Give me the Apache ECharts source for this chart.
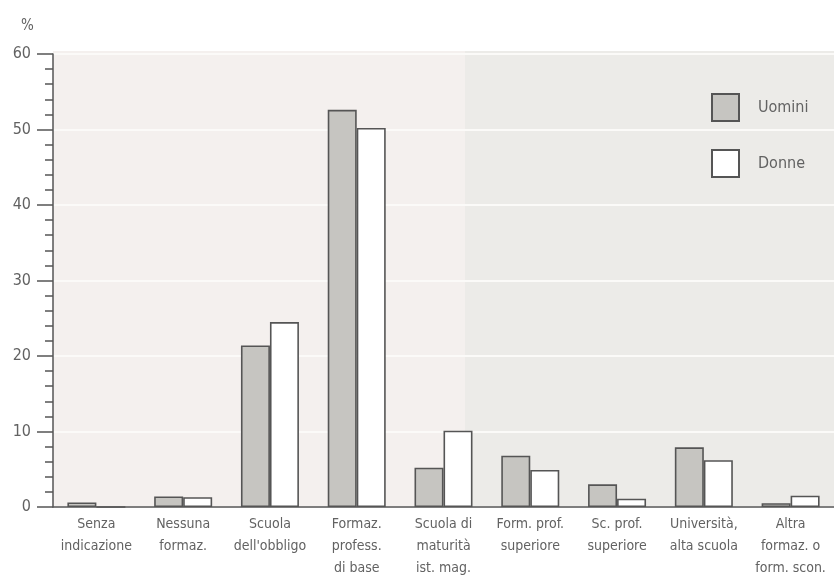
<!DOCTYPE html>
<html>
<head>
<meta charset="utf-8">
<script src="https://cdn.jsdelivr.net/npm/echarts@6/dist/echarts.min.js"></script>
<style>
  html, body { margin: 0; padding: 0; background: #ffffff; }
  #chart { width: 834px; height: 579px; }
</style>
</head>
<body>
<div id="chart"></div>
<script>
// Livello di formazione per sesso, in %
const categories = [
  'Senza\nindicazione',
  'Nessuna\nformaz.',
  'Scuola\ndell\'obbligo',
  'Formaz.\nprofess.\ndi base',
  'Scuola di\nmaturità\nist. mag.',
  'Form. prof.\nsuperiore',
  'Sc. prof.\nsuperiore',
  'Università,\nalta scuola',
  'Altra\nformaz. o\nform. scon.'
];
const uomini = [0.6, 1.4, 21.4, 52.6, 5.2, 6.8, 3.0, 7.9, 0.5];
const donne  = [0.0, 1.3, 24.5, 50.2, 10.1, 4.9, 1.1, 6.2, 1.5];
const yTicks = { min: 0, max: 60, interval: 10 };

const FONT = '"Liberation Sans Narrow", "DejaVu Sans Condensed", "Liberation Sans", sans-serif';
const TEXT = '#626262';
const AXIS = '#555555';

const chart = echarts.init(document.getElementById('chart'), null, { renderer: 'canvas' });

const gridLeft = 53, gridTop = 54, gridBottom = 72;
const plotH = 579 - gridTop - gridBottom;

chart.setOption({
  animation: false,
  backgroundColor: '#ffffff',
  textStyle: { fontFamily: FONT },
  grid: { left: gridLeft, right: 0, top: gridTop, bottom: gridBottom, containLabel: false },
  title: {
    text: '%', left: 16, top: 14,
    textStyle: { fontFamily: FONT, fontSize: 15, fontWeight: 'normal', color: TEXT }
  },
  legend: {
    orient: 'vertical', left: 706, top: 88,
    itemWidth: 27, itemHeight: 27, itemGap: 27,
    icon: 'rect',
    textStyle: { fontFamily: FONT, fontSize: 16, color: TEXT, padding: [0, 0, 0, 14] },
    data: ['Uomini', 'Donne']
  },
  graphic: [
    { type: 'rect', z: -10, shape: { x: gridLeft, y: gridTop - 3, width: 465 - gridLeft, height: plotH + 3 },
      style: { fill: '#f4f0ee' } },
    { type: 'rect', z: -10, shape: { x: 465, y: gridTop - 3, width: 834 - 465, height: plotH + 3 },
      style: { fill: '#ecebe8' } }
  ],
  xAxis: {
    type: 'category',
    data: categories,
    axisLine: { lineStyle: { color: AXIS, width: 1.5 } },
    axisTick: { show: false },
    axisLabel: {
      interval: 0, color: TEXT, fontFamily: FONT, fontSize: 14, lineHeight: 22, margin: 6
    }
  },
  yAxis: {
    type: 'value',
    min: yTicks.min, max: yTicks.max, interval: yTicks.interval,
    axisLine: { show: true, lineStyle: { color: AXIS, width: 1.5 } },
    axisTick: { show: true, length: 16, lineStyle: { color: AXIS, width: 1.5 } },
    minorTick: { show: true, splitNumber: 5, length: 8, lineStyle: { color: AXIS, width: 1.5 } },
    splitLine: { show: true, lineStyle: { color: '#fbfaf8', width: 2 } },
    axisLabel: { color: TEXT, fontFamily: FONT, fontSize: 16, margin: 22 }
  },
  series: [
    {
      name: 'Uomini', type: 'bar', data: uomini,
      barWidth: 29, barGap: '0%',
      itemStyle: { color: '#c6c5c1', borderColor: AXIS, borderWidth: 1.6 }
    },
    {
      name: 'Donne', type: 'bar', data: donne,
      barWidth: 29,
      itemStyle: { color: '#ffffff', borderColor: AXIS, borderWidth: 1.6 }
    }
  ]
});
</script>
</body>
</html>
